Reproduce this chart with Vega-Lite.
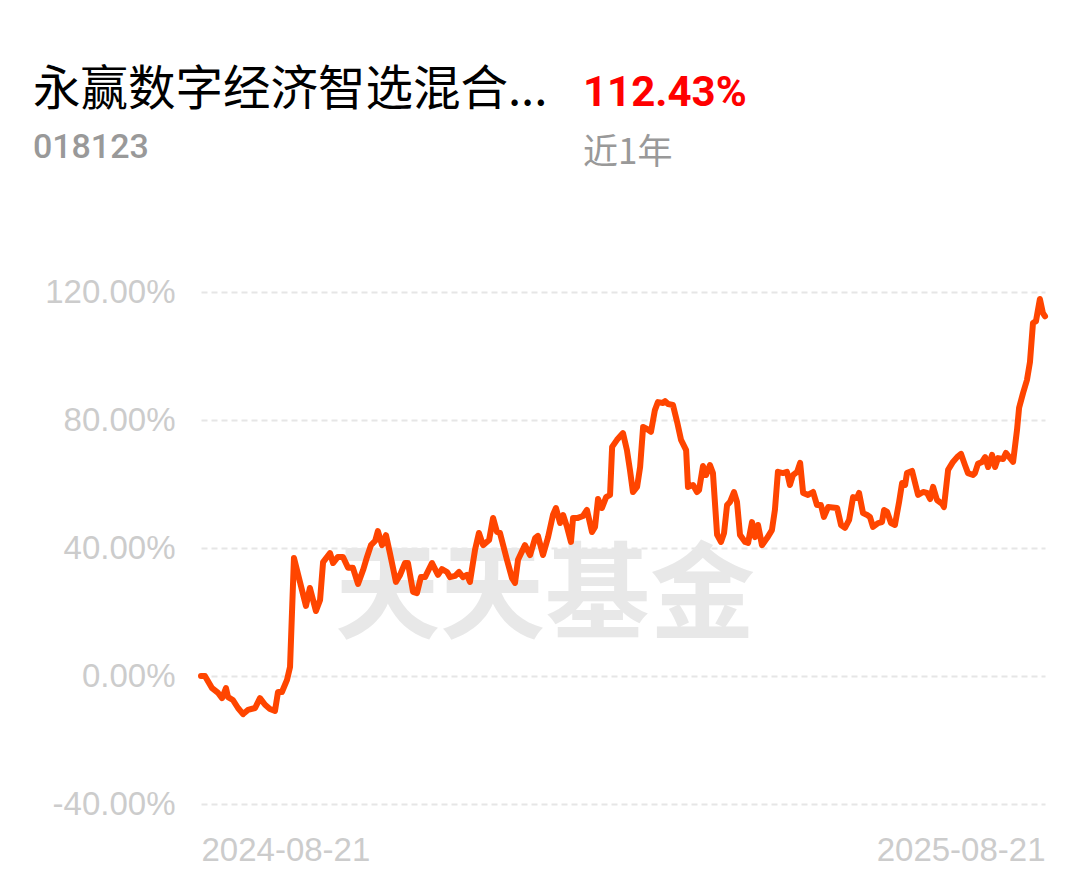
{
  "$schema": "https://vega.github.io/schema/vega-lite/v6.json",
  "autosize": "none",
  "width": 844,
  "height": 512,
  "padding": {"left": 201, "top": 292, "right": 44, "bottom": 77},
  "background": "#ffffff",
  "config": {"view": {"stroke": null}},
  "layer": [
    {
      "data": {"values": [
        {"d": 0, "v": 0}, {"d": 1.7, "v": 0}, {"d": 4.8, "v": -3.8}, {"d": 7.4, "v": -5.3}, {"d": 9.1, "v": -6.9},
        {"d": 10.8, "v": -3.8}, {"d": 11.7, "v": -6.6}, {"d": 13.8, "v": -7.5}, {"d": 16.0, "v": -10}, {"d": 18.2, "v": -11.9},
        {"d": 20.3, "v": -10.6}, {"d": 23.4, "v": -10}, {"d": 25.5, "v": -6.9}, {"d": 27.7, "v": -9}, {"d": 29.8, "v": -10.3},
        {"d": 32.0, "v": -10.9}, {"d": 33.3, "v": -5}, {"d": 35.0, "v": -5}, {"d": 37.2, "v": -1.2}, {"d": 38.5, "v": 2.8},
        {"d": 40.2, "v": 36.9}, {"d": 42.8, "v": 29.4}, {"d": 45.4, "v": 21.9}, {"d": 47.1, "v": 27.5}, {"d": 49.7, "v": 20.3},
        {"d": 51.5, "v": 23.8}, {"d": 52.8, "v": 35.6}, {"d": 55.8, "v": 38.4}, {"d": 57.1, "v": 35.3}, {"d": 59.2, "v": 37.2},
        {"d": 61.4, "v": 37.2}, {"d": 63.6, "v": 33.8}, {"d": 65.7, "v": 33.8}, {"d": 67.9, "v": 28.8}, {"d": 70.1, "v": 33.1},
        {"d": 71.8, "v": 37.2}, {"d": 73.5, "v": 40.9}, {"d": 75.3, "v": 42.2}, {"d": 76.5, "v": 45.3}, {"d": 78.3, "v": 40.9},
        {"d": 80.0, "v": 44}, {"d": 81.7, "v": 38.4}, {"d": 84.3, "v": 29.4}, {"d": 86.1, "v": 31.6}, {"d": 88.2, "v": 35.3},
        {"d": 89.5, "v": 35.3}, {"d": 91.7, "v": 26.3}, {"d": 93.4, "v": 25.9}, {"d": 95.1, "v": 30.9}, {"d": 96.9, "v": 30.9},
        {"d": 99.9, "v": 35.3}, {"d": 102.5, "v": 31.6}, {"d": 104.2, "v": 33.4}, {"d": 106.4, "v": 32.5}, {"d": 107.7, "v": 30.9},
        {"d": 109.9, "v": 31.3}, {"d": 111.6, "v": 32.5}, {"d": 113.3, "v": 30.9}, {"d": 115.0, "v": 31.6}, {"d": 116.3, "v": 29.4},
        {"d": 118.5, "v": 39.4}, {"d": 120.2, "v": 44.7}, {"d": 122.0, "v": 40.9}, {"d": 124.6, "v": 42.5}, {"d": 126.3, "v": 49.4},
        {"d": 128.0, "v": 45}, {"d": 129.3, "v": 44.7}, {"d": 132.3, "v": 36.3}, {"d": 134.5, "v": 30.6}, {"d": 135.8, "v": 29.1},
        {"d": 137.1, "v": 36.3}, {"d": 140.1, "v": 40.9}, {"d": 142.3, "v": 37.8}, {"d": 144.5, "v": 43.1}, {"d": 145.7, "v": 43.8},
        {"d": 147.9, "v": 37.8}, {"d": 150.1, "v": 43.4}, {"d": 152.2, "v": 50.3}, {"d": 153.5, "v": 52.5}, {"d": 155.3, "v": 47.8},
        {"d": 156.6, "v": 50.3}, {"d": 158.3, "v": 46.6}, {"d": 160.0, "v": 41.9}, {"d": 160.9, "v": 49.4}, {"d": 163.0, "v": 49.4},
        {"d": 165.2, "v": 50}, {"d": 166.9, "v": 51.9}, {"d": 169.1, "v": 45}, {"d": 170.4, "v": 46.6}, {"d": 171.7, "v": 55.3},
        {"d": 173.4, "v": 52.5}, {"d": 175.2, "v": 55.9}, {"d": 176.9, "v": 56.6}, {"d": 177.8, "v": 71.6}, {"d": 179.9, "v": 73.8},
        {"d": 182.5, "v": 75.9}, {"d": 184.2, "v": 70.6}, {"d": 185.5, "v": 64.4}, {"d": 186.8, "v": 57.5}, {"d": 188.6, "v": 59.1},
        {"d": 189.9, "v": 65.3}, {"d": 191.2, "v": 77.8}, {"d": 192.9, "v": 77.2}, {"d": 194.6, "v": 76.3}, {"d": 196.3, "v": 83.1},
        {"d": 197.6, "v": 85.6}, {"d": 199.8, "v": 85.3}, {"d": 200.7, "v": 85.9}, {"d": 202.0, "v": 85}, {"d": 204.1, "v": 84.7},
        {"d": 205.9, "v": 79.4}, {"d": 207.6, "v": 73.8}, {"d": 209.8, "v": 70.6}, {"d": 210.6, "v": 59.1}, {"d": 212.8, "v": 59.7},
        {"d": 214.5, "v": 57.5}, {"d": 215.4, "v": 58.1}, {"d": 217.1, "v": 65.6}, {"d": 218.4, "v": 62.8}, {"d": 220.1, "v": 65.9},
        {"d": 221.4, "v": 63.4}, {"d": 223.2, "v": 44.1}, {"d": 224.9, "v": 41.9}, {"d": 226.2, "v": 44.7}, {"d": 227.5, "v": 53.4},
        {"d": 228.8, "v": 54.4}, {"d": 230.5, "v": 57.5}, {"d": 231.8, "v": 54.4}, {"d": 233.1, "v": 44.1}, {"d": 235.3, "v": 41.9},
        {"d": 236.6, "v": 41.6}, {"d": 238.3, "v": 48.1}, {"d": 239.6, "v": 43.4}, {"d": 240.9, "v": 47.2}, {"d": 242.6, "v": 40.9},
        {"d": 244.8, "v": 43.1}, {"d": 246.9, "v": 45.6}, {"d": 248.2, "v": 51.9}, {"d": 249.5, "v": 63.8}, {"d": 251.7, "v": 63.4},
        {"d": 253.4, "v": 63.8}, {"d": 254.7, "v": 59.7}, {"d": 256.0, "v": 62.8}, {"d": 257.8, "v": 63.8}, {"d": 259.1, "v": 66.6},
        {"d": 260.4, "v": 57.2}, {"d": 262.5, "v": 56.6}, {"d": 264.7, "v": 57.5}, {"d": 266.4, "v": 53.4}, {"d": 268.1, "v": 53.4},
        {"d": 269.4, "v": 49.7}, {"d": 271.2, "v": 52.8}, {"d": 275.1, "v": 52.5}, {"d": 276.8, "v": 47.2}, {"d": 278.5, "v": 46.3},
        {"d": 280.3, "v": 48.8}, {"d": 282.0, "v": 55.9}, {"d": 283.7, "v": 55.6}, {"d": 284.6, "v": 57.2}, {"d": 286.3, "v": 50.9},
        {"d": 288.1, "v": 50.3}, {"d": 289.3, "v": 49.7}, {"d": 290.6, "v": 46.6}, {"d": 292.8, "v": 47.8}, {"d": 294.5, "v": 48.1},
        {"d": 295.4, "v": 51.9}, {"d": 296.7, "v": 51.3}, {"d": 298.4, "v": 47.8}, {"d": 300.1, "v": 47.2}, {"d": 301.9, "v": 54.4},
        {"d": 303.2, "v": 60.3}, {"d": 304.5, "v": 59.7}, {"d": 305.3, "v": 63.4}, {"d": 307.5, "v": 64.1}, {"d": 310.1, "v": 56.6},
        {"d": 312.3, "v": 57.5}, {"d": 314.0, "v": 57.2}, {"d": 315.3, "v": 55.3}, {"d": 316.6, "v": 59.1}, {"d": 318.3, "v": 55},
        {"d": 320.5, "v": 53.8}, {"d": 321.3, "v": 52.8}, {"d": 323.1, "v": 64.4}, {"d": 325.2, "v": 66.9}, {"d": 327.0, "v": 68.4},
        {"d": 328.7, "v": 69.4}, {"d": 330.4, "v": 65.9}, {"d": 331.7, "v": 63.4}, {"d": 333.9, "v": 62.8}, {"d": 334.7, "v": 63.4},
        {"d": 336.0, "v": 66.3}, {"d": 337.8, "v": 66.9}, {"d": 339.1, "v": 68.4}, {"d": 340.4, "v": 65.3}, {"d": 342.1, "v": 69.1},
        {"d": 343.4, "v": 65.3}, {"d": 344.7, "v": 68.1}, {"d": 346.9, "v": 67.8}, {"d": 348.1, "v": 69.7}, {"d": 349.9, "v": 68.1},
        {"d": 351.2, "v": 66.9}, {"d": 352.9, "v": 76.9}, {"d": 353.8, "v": 83.8}, {"d": 355.5, "v": 88.4}, {"d": 357.2, "v": 92.5},
        {"d": 358.5, "v": 98.1}, {"d": 359.8, "v": 110.3}, {"d": 361.1, "v": 110.9}, {"d": 362.8, "v": 117.8}, {"d": 364.1, "v": 113.4},
        {"d": 365.0, "v": 112.43}
      ]},
      "layer": [
        {
          "data": {"values": [{"wm": "天天基金"}]},
          "mark": {"type": "text", "align": "center", "baseline": "alphabetic", "font": "Noto Sans CJK SC", "fontWeight": "bold", "fontSize": 105, "color": "#e8e8e8"},
          "encoding": {
            "x": {"datum": 148.8, "type": "quantitative"},
            "y": {"datum": 14.4, "type": "quantitative"},
            "text": {"field": "wm"}
          }
        },
        {
          "mark": {"type": "line", "color": "#FF4500", "strokeWidth": 6, "strokeJoin": "round", "strokeCap": "round"},
          "encoding": {
            "x": {
              "field": "d", "type": "quantitative",
              "scale": {"domain": [0, 365], "nice": false, "zero": false},
              "axis": {
                "title": null, "values": [0, 365], "grid": false, "domain": false, "ticks": false, "tickSize": 0,
                "labelFlush": true, "labelPadding": 30, "labelFont": "Liberation Sans", "labelFontSize": 33, "labelColor": "#cccccc",
                "labelExpr": "datum.value == 0 ? '2024-08-21' : '2025-08-21'"
              }
            },
            "y": {
              "field": "v", "type": "quantitative",
              "scale": {"domain": [-40, 120], "nice": false, "zero": false},
              "axis": {
                "title": null, "values": [-40, 0, 40, 80, 120], "domain": false, "ticks": false, "tickSize": 0,
                "grid": true, "gridColor": "#e6e6e6", "gridWidth": 2, "gridDash": [6, 4],
                "labelPadding": 26, "labelFont": "Liberation Sans", "labelFontSize": 33, "labelColor": "#cccccc",
                "labelExpr": "(datum.value < 0 ? '-' : '') + format(abs(datum.value), '.2f') + '%'"
              }
            }
          }
        },
        {
          "data": {"values": [{"t": "永赢数字经济智选混合..."}]},
          "mark": {"type": "text", "align": "left", "baseline": "alphabetic", "font": "Noto Sans CJK SC", "fontSize": 47.5, "color": "#000000"},
          "encoding": {
            "x": {"datum": -72.7, "type": "quantitative"},
            "y": {"datum": 178.4, "type": "quantitative"},
            "text": {"field": "t"}
          }
        },
        {
          "data": {"values": [{"t": "112.43%"}]},
          "mark": {"type": "text", "align": "left", "baseline": "alphabetic", "font": "Roboto", "fontWeight": "bold", "fontSize": 42, "color": "#FF0000"},
          "encoding": {
            "x": {"datum": 165.2, "type": "quantitative"},
            "y": {"datum": 178.1, "type": "quantitative"},
            "text": {"field": "t"}
          }
        },
        {
          "data": {"values": [{"t": "018123"}]},
          "mark": {"type": "text", "align": "left", "baseline": "alphabetic", "font": "Roboto", "fontWeight": 500, "fontSize": 34, "color": "#999999"},
          "encoding": {
            "x": {"datum": -72.7, "type": "quantitative"},
            "y": {"datum": 161.9, "type": "quantitative"},
            "text": {"field": "t"}
          }
        },
        {
          "data": {"values": [{"t": "近1年"}]},
          "mark": {"type": "text", "align": "left", "baseline": "alphabetic", "font": "Noto Sans CJK SC", "fontSize": 35, "color": "#999999"},
          "encoding": {
            "x": {"datum": 165.2, "type": "quantitative"},
            "y": {"datum": 160.0, "type": "quantitative"},
            "text": {"field": "t"}
          }
        }
      ]
    }
  ]
}
